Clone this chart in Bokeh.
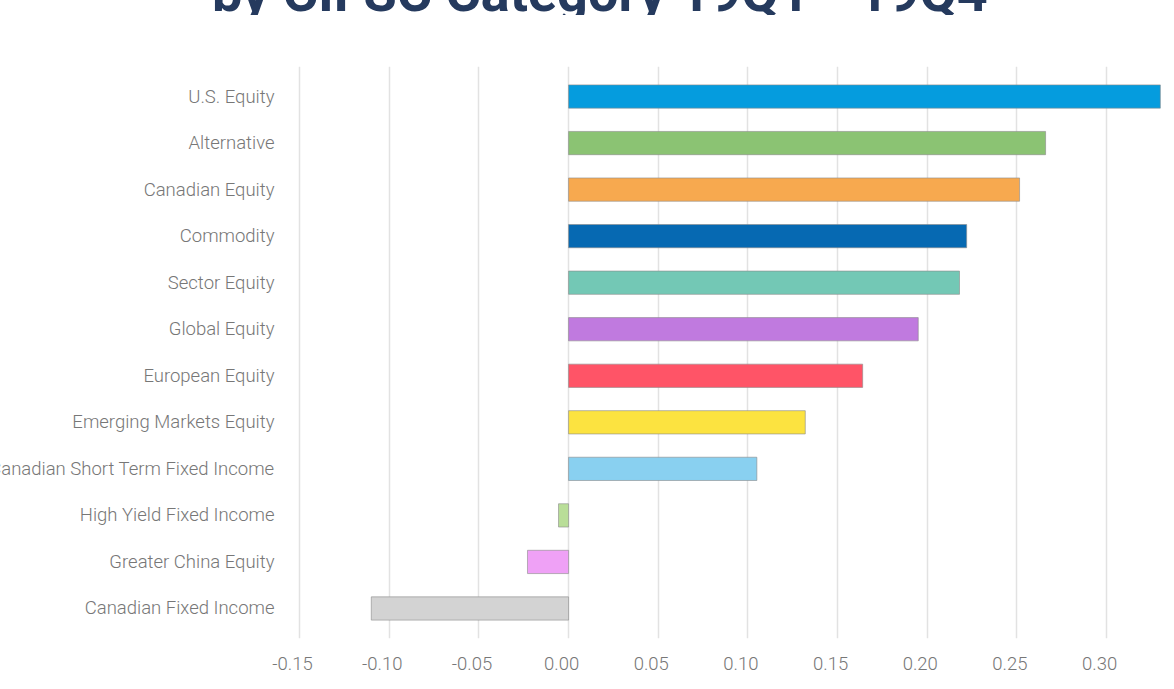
from bokeh.plotting import figure
from bokeh.layouts import column
from bokeh.models import (FactorRange, FixedTicker, NumeralTickFormatter, ColumnDataSource,
                          Range1d, LinearAxis, Div)
from bokeh.embed import file_html
from bokeh.resources import INLINE

categories = ["U.S. Equity", "Alternative", "Canadian Equity", "Commodity", "Sector Equity",
              "Global Equity", "European Equity", "Emerging Markets Equity",
              "Canadian Short Term Fixed Income", "High Yield Fixed Income",
              "Greater China Equity", "Canadian Fixed Income"]
values = [0.330, 0.266, 0.2515, 0.222, 0.218, 0.195, 0.164, 0.132, 0.105, -0.0056, -0.0229, -0.110]
colors = ["#059CDE", "#8BC373", "#F7A94F", "#0669B2", "#73C8B5", "#C07ADF", "#FF5467",
          "#FCE340", "#89D0F0", "#B9DE98", "#EFA1F6", "#D3D3D3"]
ticks = [-0.15, -0.10, -0.05, 0.0, 0.05, 0.10, 0.15, 0.20, 0.25, 0.30]
title_text = "by CIFSC Category 19Q1 - 19Q4"

X0, X1 = -0.1545, 0.33566
LBL_SHIFT = 0.0039  # tick labels sit slightly left of their grid lines
PAD = 0.145         # per-side category padding
LEFT = 340
FW, FH = 879, 572
TITLE_H = 15

# ---- title strip: only the lower part of the (cropped) title is visible ----
title_div = Div(
    text=('<div style="position:relative; left:261px; top:-34px; white-space:nowrap; '
          'font-family:Roboto; font-weight:bold; font-size:54px; line-height:54px; '
          'color:#253A5E; margin:0; padding:0;">' + title_text + '</div>'),
    width=LEFT + FW, height=TITLE_H,
    styles={"overflow": "hidden", "margin": "0", "padding": "0"})

# ---- main chart ----
src = ColumnDataSource(dict(cat=categories, val=values, color=colors))
yr = FactorRange(factors=categories[::-1], range_padding=PAD, range_padding_units="absolute")

p = figure(frame_width=FW, frame_height=FH, y_range=yr, x_range=Range1d(X0, X1),
           output_backend="svg", toolbar_location=None,
           min_border_left=LEFT, min_border_right=0, min_border_top=66 - TITLE_H, min_border_bottom=46)
p.extra_x_ranges = {"lbl": Range1d(X0 + LBL_SHIFT, X1 + LBL_SHIFT)}

p.hbar(y="cat", left=0, right="val", height=0.5, color="color", source=src,
       line_color="#8a8a8a", line_alpha=0.6, line_width=1)

p.outline_line_color = None
p.ygrid.grid_line_color = None
p.xgrid.ticker = FixedTicker(ticks=ticks)
p.xgrid.grid_line_color = "#E2E2E2"
p.xgrid.grid_line_width = 1.5
p.xaxis.visible = False

xa = LinearAxis(x_range_name="lbl", ticker=FixedTicker(ticks=ticks),
                formatter=NumeralTickFormatter(format="0.00"))
p.add_layout(xa, "below")

for ax in (xa, p.yaxis[0]):
    ax.axis_line_color = None
    ax.major_tick_line_color = None
    ax.minor_tick_line_color = None
    ax.major_tick_out = 0
    ax.major_tick_in = 0
    ax.major_label_text_font = "Roboto Light"
    ax.major_label_text_font_size = "18.5px"
    ax.major_label_text_color = "#777777"

p.yaxis.major_label_standoff = 17
xa.major_label_standoff = 18

layout = column(title_div, p, spacing=0)
layout.styles = {"margin-left": "-49px"}

open("out.html", "w").write(file_html(layout, INLINE))
